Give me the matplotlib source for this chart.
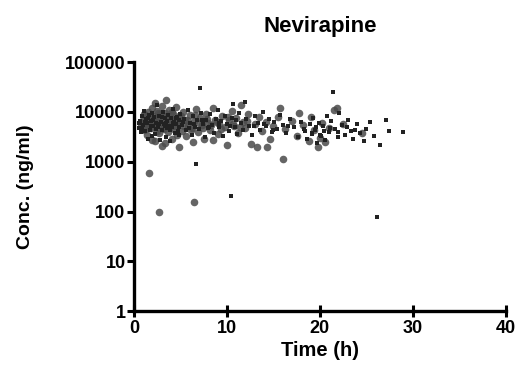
import matplotlib.pyplot as plt

# circles (grey, larger)
circ_t = [0.8, 1.0, 1.1, 1.2, 1.3, 1.4, 1.5, 1.5, 1.6, 1.7, 1.8, 1.9, 2.0, 2.0, 2.1, 2.2, 2.3, 2.3,
          2.4, 2.5, 2.5, 2.6, 2.7, 2.7, 2.8, 2.9, 3.0, 3.0, 3.1, 3.2, 3.3, 3.3, 3.4, 3.5, 3.6, 3.7,
          3.8, 3.9, 4.0, 4.1, 4.2, 4.3, 4.4, 4.5, 4.6, 4.7, 4.8, 4.9, 5.0, 5.2, 5.3, 5.5, 5.6, 5.8,
          6.0, 6.2, 6.4, 6.5, 6.5, 6.7, 6.9, 7.1, 7.3, 7.5, 7.7, 8.0, 8.2, 8.5, 8.5, 8.7, 9.0, 9.2,
          9.5, 9.8, 10.0, 10.2, 10.5, 10.8, 11.0, 11.2, 11.5, 11.7, 12.0, 12.3, 12.6, 13.0, 13.2,
          13.4, 13.8, 14.2, 14.3, 14.6, 15.0, 15.5, 15.7, 16.0, 16.3, 17.0, 17.5, 17.8, 18.2, 18.8,
          19.0, 19.4, 19.8, 20.0, 20.2, 20.5, 21.0, 21.5, 21.8, 22.5, 24.5,
          # extra early-time samples
          0.9, 1.1, 1.3, 1.6, 1.8, 2.0, 2.2, 2.4, 2.6, 2.9, 3.1, 3.4, 3.6, 3.9, 4.1, 4.4, 4.7,
          5.1, 5.4, 5.7, 6.1, 6.6, 7.0, 7.4, 7.9, 8.3, 8.9, 9.4, 10.1, 10.7, 11.4, 12.2]
circ_c = [5200, 7000, 4300, 8800, 6100, 3500, 9800, 5400, 600, 7400, 4700, 12000, 6300, 2700, 8200,
          5600, 15000, 2600, 7100, 4200, 10500, 6600, 100, 3700, 8900, 5100, 13000, 2100, 6900, 4500,
          9500, 2400, 5800, 17000, 7600, 3900, 11000, 5000, 6800, 2900, 9000, 4600, 7300, 12500, 3400,
          5900, 8200, 2000, 6400, 4100, 10000, 7000, 3300, 5300, 8600, 4800, 2500, 155, 6700, 11500,
          4000, 7700, 5500, 2800, 9200, 6100, 4400, 12000, 2700, 7000, 3600, 5700, 8400, 4900, 2200,
          6900, 10500, 5200, 7500, 3800, 13500, 6300, 4700, 9000, 2300, 5800, 2000, 7900, 4200, 6400,
          2000, 2900, 5100, 8000, 12000, 1150, 4600, 6600, 3300, 9500, 5400, 2600, 7800, 4400, 2000,
          3000, 6000, 2500, 4800, 11000, 12000, 5800, 3700,
          6200, 9000, 5000, 6800, 8000, 4900, 7300, 5800, 9600, 6400, 4800, 8400, 5600, 7100, 9800,
          5300, 6500, 8100, 5100, 6900, 4300, 8500, 5900, 4800, 7200, 5500, 6300, 4600, 7800, 5700,
          4900, 6700]

# squares (dark, small)
sq_t = [0.6, 0.7, 0.8, 0.9, 1.0, 1.1, 1.2, 1.3, 1.4, 1.5, 1.6, 1.7, 1.8, 1.9, 2.0, 2.1, 2.2, 2.3,
        2.4, 2.5, 2.6, 2.7, 2.8, 2.9, 3.0, 3.1, 3.2, 3.3, 3.4, 3.5, 3.6, 3.7, 3.8, 3.9, 4.0, 4.1,
        4.2, 4.3, 4.4, 4.5, 4.6, 4.7, 4.8, 4.9, 5.0, 5.2, 5.4, 5.6, 5.8, 6.0, 6.2, 6.4, 6.6, 6.7,
        6.8, 7.0, 7.1, 7.2, 7.4, 7.6, 7.8, 8.0, 8.2, 8.4, 8.6, 8.8, 9.0, 9.2, 9.4, 9.6, 9.8, 10.0,
        10.2, 10.4, 10.5, 10.7, 10.9, 11.1, 11.3, 11.5, 11.7, 11.9, 12.1, 12.4, 12.7, 13.0, 13.3,
        13.6, 13.9, 14.2, 14.5, 14.8, 15.1, 15.4, 15.7, 16.0, 16.4, 16.8, 17.2, 17.6, 18.0, 18.3,
        18.6, 18.9, 19.1, 19.3, 19.5, 19.7, 19.9, 20.1, 20.3, 20.6, 20.8, 21.0, 21.2, 21.4, 21.6,
        21.9, 22.1, 22.4, 22.7, 23.0, 23.3, 23.6, 24.0, 24.3, 24.7, 25.0, 25.4, 25.8, 26.1, 26.5,
        27.1, 27.4, 28.9,
        # extra samples
        0.6, 0.9, 1.2, 1.5, 1.8, 2.1, 2.4, 2.7, 3.0, 3.3, 3.6, 3.9, 4.2, 4.5, 4.8, 5.3, 5.9,
        6.5, 7.3, 8.1, 9.1, 10.3, 11.0, 12.9, 14.0, 15.0, 16.6, 18.4, 19.2, 19.6, 20.0, 20.4,
        21.1, 22.0, 22.9, 23.8]
sq_c = [4800, 6500, 3900, 8100, 5500, 10200, 4100, 7200, 5900, 2900, 8700, 4400, 6700, 3300, 9400,
        5100, 7800, 3600, 6000, 13500, 4900, 8300, 2700, 6200, 4300, 9900, 5600, 7400, 3200, 6100,
        4700, 8800, 5300, 2600, 7600, 4900, 11200, 6300, 3800, 5700, 8000, 4200, 6900, 3500, 9100,
        5500, 7300, 4300, 10800, 6000, 3400, 8300, 5000, 900, 7000, 4500, 30000, 9600, 5800, 3100,
        6800, 4700, 8900, 5400, 3800, 7200, 11000, 4900, 6500, 3300, 8100, 5600, 4200, 205, 7500,
        14500, 5000, 3600, 9300, 6100, 4400, 15500, 7100, 5300, 3500, 8400, 6000, 4400, 10000, 5200,
        7100, 3900, 6400, 4600, 8600, 5500, 3700, 7300, 4900, 3200, 6200, 4500, 2800, 5700, 3600,
        7400, 4400, 2400, 6000, 3300, 5200, 2700, 8200, 3900, 6600, 25000, 4600, 3100, 9500, 5400,
        3500, 6800, 4200, 2900, 5700, 3800, 2600, 4600, 6300, 3300, 77, 2200, 7000, 4100, 3900,
        5900, 4600, 6300, 7700, 5200, 6900, 4500, 5700, 7900, 5100, 6600, 4300, 5900, 7400, 5000,
        6200, 4800, 5600, 7000, 4900, 6100, 5300, 6800, 5100, 5800, 4400, 5300, 4100, 3800, 4900,
        3500, 4200, 4700, 3900, 5000, 4300]

plt.rcParams['font.family'] = ['Liberation Sans', 'DejaVu Sans']
plt.rcParams['font.weight'] = 'bold'

fig = plt.figure(figsize=(5.21, 3.74), dpi=100)
ax = fig.add_axes([0.257, 0.168, 0.714, 0.666])

ax.scatter(circ_t, circ_c, s=30, marker='o', color='#4a4a4a', alpha=0.85, linewidths=0, zorder=2)
ax.scatter(sq_t, sq_c, s=9, marker='s', color='#222222', linewidths=0, zorder=3)

ax.set_yscale('log')
ax.set_xlim(0, 40)
ax.set_ylim(1, 100000)
ax.set_xticks([0, 10, 20, 30, 40])
ax.set_yticks([1, 10, 100, 1000, 10000, 100000])
ax.set_yticklabels(['1', '10', '100', '1000', '10000', '100000'])
ax.minorticks_off()

for s in ['top', 'right']:
    ax.spines[s].set_visible(False)
for s in ['left', 'bottom']:
    ax.spines[s].set_linewidth(2.4)

ax.tick_params(axis='y', direction='out', length=5, width=2.2, labelsize=13, pad=1)
ax.tick_params(axis='x', direction='inout', length=8, width=2.2, labelsize=13, pad=2)
for lbl in ax.get_xticklabels() + ax.get_yticklabels():
    lbl.set_fontweight('bold')

ax.set_xlabel('Time (h)', fontsize=14.5, fontweight='bold', labelpad=3)
ax.set_ylabel('Conc. (ng/ml)', fontsize=14, fontweight='bold', labelpad=22)
ax.set_title('Nevirapine', fontsize=16, fontweight='bold', pad=22)

fig.savefig('out.png', dpi=100)
